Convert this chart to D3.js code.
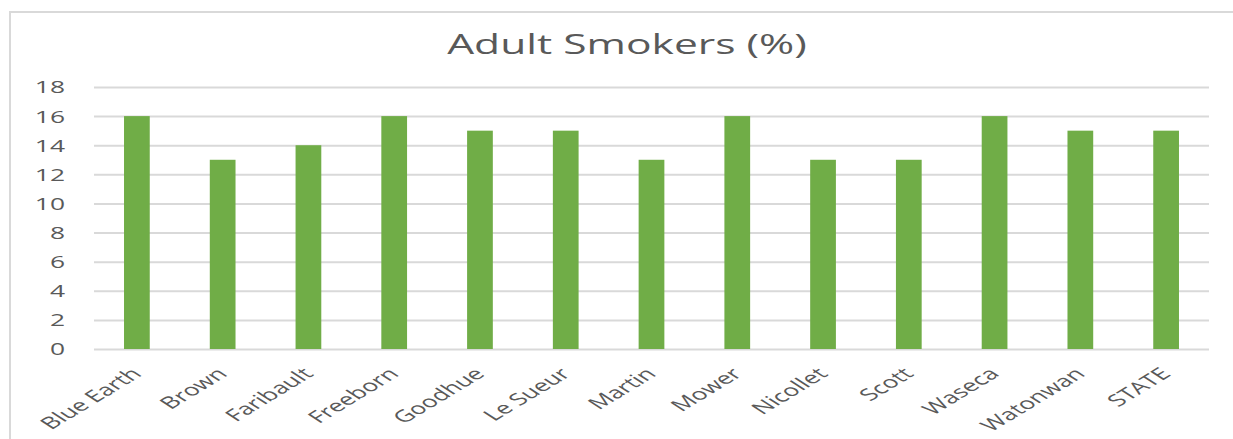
<!DOCTYPE html>
<html><head><meta charset="utf-8">
<script src="https://cdn.jsdelivr.net/npm/d3@7"></script>
<style>body{margin:0;background:#fff}svg{display:block}text{font-family:"Open Sans",sans-serif;fill:#595959}</style>
</head><body>
<svg id="c" width="1233" height="439"></svg>
<script>
const categories = ["Blue Earth","Brown","Faribault","Freeborn","Goodhue","Le Sueur","Martin","Mower","Nicollet","Scott","Waseca","Watonwan","STATE"];
const values = [16,13,14,16,15,15,13,16,13,13,16,15,15];
const yTicks = [0,2,4,6,8,10,12,14,16,18];
const title = "Adult Smokers (%)";

const svg = d3.select("#c");
const W = 1233, H = 439;
const m = {left:94, right:1209, top:87, bottom:349};
const sx = 1.6;

svg.append("rect").attr("x",10).attr("y",12).attr("width",W).attr("height",H)
  .attr("fill","#fff").attr("stroke","#d9d9d9").attr("stroke-width",2);

const x = d3.scaleBand().domain(categories).range([m.left,m.right]).paddingInner(0.7).paddingOuter(0.35);
const y = d3.scaleLinear().domain([0,18]).range([m.bottom,m.top]);

const gy = svg.append("g").attr("transform",`translate(${m.left},0)`)
  .call(d3.axisLeft(y).tickValues(yTicks).tickSize(-(m.right-m.left)).tickPadding(0));
gy.select(".domain").remove();
gy.selectAll(".tick line").attr("stroke","#d9d9d9").attr("stroke-width",2);
gy.selectAll(".tick text").style("font-size","16.5px").attr("fill","#595959")
  .attr("x",0).attr("dy","0.36em").attr("text-anchor","end")
  .attr("transform",`translate(-29,0) scale(${sx},1)`);

svg.append("g").selectAll("rect").data(values).join("rect")
  .attr("x",(d,i)=>x(categories[i])).attr("width",x.bandwidth())
  .attr("y",d=>y(d)).attr("height",d=>y(0)-y(d)).attr("fill","#70ad47");

const gx = svg.append("g").attr("transform",`translate(0,${m.bottom})`)
  .call(d3.axisBottom(x).tickSize(0).tickPadding(0));
gx.select(".domain").remove();
gx.selectAll(".tick text").style("font-size","16.5px").attr("fill","#595959")
  .attr("text-anchor","end").attr("dy","0").attr("y",0)
  .attr("transform",`translate(6,26) scale(${sx},1) rotate(-44)`);

svg.append("text").attr("x",0).attr("y",0).attr("text-anchor","middle")
  .style("font-size","28px")
  .attr("transform",`translate(627,54) scale(1.52,1)`)
  .text(title);
</script>
</body></html>
